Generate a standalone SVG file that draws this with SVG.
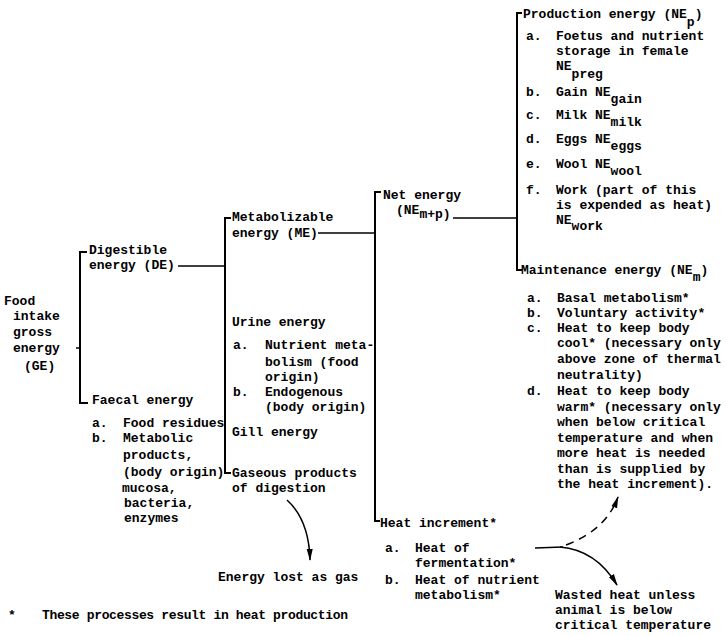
<svg xmlns="http://www.w3.org/2000/svg" width="726" height="636" viewBox="0 0 726 636">
<defs>
<style>
text{font-family:"Liberation Mono","Courier New",monospace;font-weight:bold;font-size:13px;fill:#000}
.br{fill:none;stroke:#000;stroke-width:2}
.ln{fill:none;stroke:#000;stroke-width:1.5}
.dash{stroke-dasharray:8 6}
</style>
<marker id="ah" viewBox="0 0 12 8" refX="11" refY="4" markerWidth="12" markerHeight="8" markerUnits="userSpaceOnUse" orient="auto">
<path d="M0,1 L12,4 L0,7 Z" fill="#000"/>
</marker>
</defs>
<rect width="726" height="636" fill="#fff"/>

<g id="connectors">
<path class="br" d="M87,252 H80 V403 H88"/>
<path class="ln" d="M76,348 H80"/>
<path class="ln" d="M178,266 H225"/>
<path class="br" d="M231,218 H225 V473 H231"/>
<path class="ln" d="M318,233 H375"/>
<path class="br" d="M381,192 H375 V521 H380"/>
<path class="ln" d="M453,218 H517"/>
<path class="br" d="M522,13 H517 V270 H522"/>
<path class="ln" d="M287,500 Q309,520 310,560" marker-end="url(#ah)"/>
<path class="ln" d="M535,548 L563,547"/>
<path class="ln" d="M560,547 Q596,550 617,585" marker-end="url(#ah)"/>
<path class="ln dash" d="M566,545 Q606,530 618,497" marker-end="url(#ah)"/>
</g>

<g id="node-ge">
<text x="4" y="305">Food</text>
<text x="13" y="320">intake</text>
<text x="13" y="336">gross</text>
<text x="13" y="352">energy</text>
<text x="24" y="370">(GE)</text>
</g>

<g id="node-de">
<text x="89" y="254">Digestible</text>
<text x="89" y="269">energy (DE)</text>
</g>

<g id="node-faecal">
<text x="92" y="404">Faecal energy</text>
<text x="92" y="427">a.</text><text x="123" y="427">Food residues</text>
<text x="92" y="442">b.</text><text x="123" y="442">Metabolic</text>
<text x="123" y="459">products,</text>
<text x="123" y="476">(body origin)</text>
<text x="122" y="492">mucosa,</text>
<text x="124" y="507">bacteria,</text>
<text x="124" y="522">enzymes</text>
</g>

<g id="node-me">
<text x="232" y="221">Metabolizable</text>
<text x="232" y="237">energy (ME)</text>
</g>

<g id="node-urine">
<text x="232" y="326">Urine energy</text>
<text x="233" y="349">a.</text><text x="265" y="349">Nutrient meta-</text>
<text x="265" y="366">bolism (food</text>
<text x="265" y="381">origin)</text>
<text x="233" y="396">b.</text><text x="265" y="396">Endogenous</text>
<text x="265" y="411">(body origin)</text>
</g>

<g id="node-gill">
<text x="232" y="436">Gill energy</text>
</g>

<g id="node-gaseous">
<text x="232" y="477">Gaseous products</text>
<text x="232" y="492">of digestion</text>
</g>

<g id="node-gaslost">
<text x="218" y="581">Energy lost as gas</text>
</g>

<g id="node-ne">
<text x="383" y="199">Net energy</text>
<text x="396" y="214">(NE<tspan dy="4">m+p)</tspan></text>
</g>

<g id="node-hi">
<text x="380" y="527">Heat increment*</text>
<text x="385" y="552">a.</text><text x="415" y="552">Heat of</text>
<text x="415" y="567">fermentation*</text>
<text x="385" y="584">b.</text><text x="415" y="584">Heat of nutrient</text>
<text x="415" y="599">metabolism*</text>
</g>

<g id="node-nep">
<text x="523" y="18">Production energy (NE<tspan dy="8">p</tspan><tspan dy="-8">)</tspan></text>
<text x="526" y="40">a.</text><text x="556" y="40">Foetus and nutrient</text>
<text x="556" y="55">storage in female</text>
<text x="556" y="70">NE<tspan dy="8">preg</tspan></text>
<text x="526" y="96">b.</text><text x="556" y="96">Gain NE<tspan dy="7">gain</tspan></text>
<text x="526" y="119">c.</text><text x="556" y="119">Milk NE<tspan dy="7">milk</tspan></text>
<text x="526" y="143">d.</text><text x="556" y="143">Eggs NE<tspan dy="7">eggs</tspan></text>
<text x="526" y="168">e.</text><text x="556" y="168">Wool NE<tspan dy="7">wool</tspan></text>
<text x="526" y="194">f.</text><text x="556" y="194">Work (part of this</text>
<text x="556" y="209">is expended as heat)</text>
<text x="556" y="224">NE<tspan dy="6">work</tspan></text>
</g>

<g id="node-nem">
<text x="521" y="274">Maintenance energy (NE<tspan dy="7">m</tspan><tspan dy="-7">)</tspan></text>
<text x="527" y="302">a.</text><text x="557" y="302">Basal metabolism*</text>
<text x="527" y="317">b.</text><text x="557" y="317">Voluntary activity*</text>
<text x="527" y="332">c.</text><text x="557" y="332">Heat to keep body</text>
<text x="557" y="347">cool* (necessary only</text>
<text x="557" y="363">above zone of thermal</text>
<text x="557" y="379">neutrality)</text>
<text x="527" y="395">d.</text><text x="557" y="395">Heat to keep body</text>
<text x="557" y="411">warm* (necessary only</text>
<text x="557" y="426">when below critical</text>
<text x="557" y="442">temperature and when</text>
<text x="557" y="457">more heat is needed</text>
<text x="557" y="473">than is supplied by</text>
<text x="557" y="488">the heat increment).</text>
</g>

<g id="node-wasted">
<text x="555" y="599">Wasted heat unless</text>
<text x="555" y="614">animal is below</text>
<text x="555" y="629">critical temperature</text>
</g>

<g id="footnote">
<text x="8" y="619">*</text>
<text x="42" y="619" textLength="306" lengthAdjust="spacing">These processes result in heat production</text>
</g>
</svg>
